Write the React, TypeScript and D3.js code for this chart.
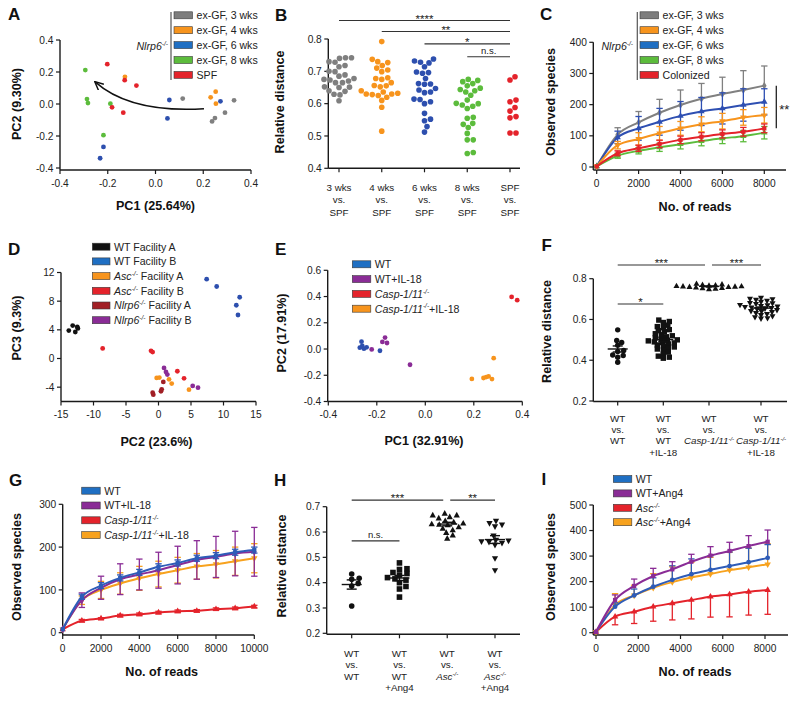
import React from 'react';
import * as d3 from 'd3';

const FONT = "'Liberation Sans', Arial, Helvetica, sans-serif";
const TICK_FS = 10.2;
const CAT_FS = 9.8;
const LEG_FS = 10.6;
const TITLE_FS = 12.6;
const AX = '#1a1a1a';

// ---------------- Panel A ----------------
const aLegendLabels = ['ex-GF, 3 wks', 'ex-GF, 4 wks', 'ex-GF, 6 wks', 'ex-GF, 8 wks', 'SPF'];
const aColors = ['#808080', '#f7941d', '#2d4fae', '#5cbc3c', '#e4232b'];
const aBoxColors = ['#7d7d7d', '#f7941d', '#1f6fc3', '#5cbc3c', '#e4232b'];
const aPts3wks = [[0.114, 0.034], [0.329, 0.023], [0.291, -0.054], [0.249, -0.088], [0.237, -0.109]];
const aPts4wks = [[-0.128, 0.17], [0.252, 0.077], [0.231, 0.042], [0.253, 0.002]];
const aPts6wks = [[0.058, 0.025], [0.05, -0.09], [0.272, 0.017], [-0.218, -0.268], [-0.232, -0.339]];
const aPts8wks = [[-0.294, 0.212], [-0.287, 0.031], [-0.283, 0.006], [-0.189, 0.002], [-0.218, -0.195]];
const aPtsSPF = [[-0.202, 0.249], [-0.129, 0.149], [-0.08, 0.115], [-0.182, -0.021], [-0.135, -0.054]];
const aArrow = [[0.203, -0.03], [-0.105, -0.058], [-0.253, 0.138]];
const aTicks = [-0.4, -0.2, 0, 0.2, 0.4];

// ---------------- Panel B ----------------
const bCategories = [['3 wks', 'vs.', 'SPF'], ['4 wks', 'vs.', 'SPF'], ['6 wks', 'vs.', 'SPF'], ['8 wks', 'vs.', 'SPF'], ['SPF', 'vs.', 'SPF']];
const b3wks = [0.742, 0.742, 0.740, 0.730, 0.728, 0.718, 0.714, 0.700, 0.699, 0.689, 0.685, 0.678, 0.675, 0.673, 0.670, 0.665, 0.665, 0.652, 0.651, 0.650, 0.640, 0.638, 0.629, 0.627, 0.609];
const b4wks = [0.792, 0.737, 0.730, 0.727, 0.718, 0.710, 0.704, 0.699, 0.680, 0.678, 0.675, 0.665, 0.656, 0.655, 0.652, 0.640, 0.636, 0.632, 0.630, 0.630, 0.628, 0.625, 0.620, 0.610, 0.589, 0.515];
const b6wks = [0.738, 0.732, 0.728, 0.726, 0.714, 0.698, 0.696, 0.694, 0.678, 0.662, 0.661, 0.660, 0.647, 0.642, 0.636, 0.634, 0.614, 0.613, 0.606, 0.600, 0.570, 0.552, 0.547, 0.529, 0.512];
const b8wks = [0.675, 0.672, 0.668, 0.662, 0.655, 0.648, 0.644, 0.640, 0.636, 0.626, 0.611, 0.601, 0.600, 0.596, 0.592, 0.585, 0.558, 0.555, 0.539, 0.536, 0.526, 0.508, 0.488, 0.488, 0.449, 0.446];
const bSPF = [0.683, 0.673, 0.611, 0.606, 0.588, 0.577, 0.560, 0.556, 0.509, 0.509];
const bColors = ['#7f7f7f', '#f7941d', '#2d4fae', '#5cbc3c', '#e4232b'];
const bTicks = [0.4, 0.5, 0.6, 0.7, 0.8];
const bSig = [
  { from: 0, to: 4, label: '****', y: 0.857 },
  { from: 1, to: 4, label: '**', y: 0.823 },
  { from: 2, to: 4, label: '*', y: 0.785 },
  { from: 3, to: 4, label: 'n.s.', y: 0.745 },
];

// ---------------- Panel C ----------------
const cLegendLabels = ['ex-GF, 3 wks', 'ex-GF, 4 wks', 'ex-GF, 6 wks', 'ex-GF, 8 wks', 'Colonized'];
const cReads = [0, 1000, 2000, 3000, 4000, 5000, 6000, 7000, 8000];
const c3wks = [2, 104, 143, 174, 199, 219, 234, 247, 261];
const c3wksSD = [0, 22, 35, 43, 48, 49, 54, 62, 63];
const c4wks = [2, 70, 90, 108, 124, 137, 147, 159, 166];
const c4wksSD = [0, 12, 20, 22, 22, 24, 25, 25, 25];
const c6wks = [2, 95, 124, 145, 164, 178, 188, 199, 209];
const c6wksSD = [0, 20, 38, 43, 46, 45, 50, 52, 42];
const c8wks = [2, 36, 52, 63, 73, 83, 92, 99, 110];
const c8wksSD = [0, 8, 10, 13, 15, 15, 17, 18, 20];
const cColonized = [2, 44, 60, 74, 87, 97, 106, 113, 124];
const cColonizedSD = [0, 8, 10, 12, 12, 13, 13, 14, 14];
const cXTicks = [0, 2000, 4000, 6000, 8000];
const cYTicks = [0, 100, 200, 300, 400];

// ---------------- Panel D ----------------
const dLegendLabels = ['WT Facility A', 'WT Facility B', '_Asc^-/-^_ Facility A', '_Asc^-/-^_ Facility B', '_Nlrp6^-/-^_ Facility A', '_Nlrp6^-/-^_ Facility B'];
const dColors = ['#111111', '#2d4fae', '#f7941d', '#e4232b', '#a11f25', '#8a2c96'];
const dBoxColors = ['#111111', '#1f6fc3', '#f7941d', '#e4232b', '#a11f25', '#8a2c96'];
const dWTA = [[-13.8, 3.9], [-13.2, 4.6], [-12.5, 4.4], [-12.8, 3.7], [-12.4, 4.2]];
const dWTB = [[7.41, 11.07], [8.95, 10.05], [12.49, 8.55], [11.97, 7.43], [12.23, 6.07]];
const dAscA = [[-0.28, -2.71], [0.13, -2.66], [1.62, -2.9], [2.03, -3.5], [4.69, -4.35]];
const dAscB = [[-8.59, 1.4], [-1.15, 1.07], [-0.9, 0.9], [2.9, -1.78], [3.93, -2.76]];
const dNlrpA = [[0.74, -3.27], [-0.9, -4.77], [-0.8, -5.05], [0.49, -4.3], [0.38, -4.58]];
const dNlrpB = [[0.85, -1.31], [1.15, -1.87], [1.36, -2.24], [5.26, -3.83], [6.08, -4.07]];
const dXTicks = [-15, -10, -5, 0, 5, 10, 15];
const dYTicks = [-4, 0, 4, 8, 12];

// ---------------- Panel E ----------------
const eLegendLabels = ['WT', 'WT+IL-18', '_Casp-1/11^-/-^_', '_Casp-1/11^-/-^_+IL-18'];
const eColors = ['#2d4fae', '#8a2c96', '#e4232b', '#f7941d'];
const eBoxColors = ['#1f6fc3', '#8a2c96', '#e4232b', '#f7941d'];
const eWT = [[-0.263, 0.056], [-0.27, 0.01], [-0.26, 0.023], [-0.253, 0.003], [-0.242, 0.013], [-0.187, -0.013]];
const eWTIL18 = [[-0.166, 0.087], [-0.177, 0.054], [-0.158, 0.046], [-0.221, -0.003], [-0.063, -0.12]];
const eCasp = [[0.356, 0.397], [0.379, 0.372]];
const eCaspIL18 = [[0.192, -0.228], [0.24, -0.221], [0.251, -0.214], [0.261, -0.209], [0.275, -0.229], [0.282, -0.07]];
const eXTicks = [-0.4, -0.2, 0, 0.2, 0.4];
const eYTicks = [-0.4, -0.2, 0, 0.2, 0.4, 0.6];

// ---------------- Panel F ----------------
const fCategories = [['WT', 'vs.', 'WT'], ['WT', 'vs.', 'WT', '+IL-18'], ['WT', 'vs.', '_Casp-1/11^-/-^_'], ['WT', 'vs.', '_Casp-1/11^-/-^_', '+IL-18']];
const fWTvsWT = [0.549, 0.497, 0.487, 0.474, 0.448, 0.443, 0.426, 0.423, 0.415, 0.39];
const fWTvsWTIL18 = [0.597, 0.59, 0.585, 0.572, 0.565, 0.56, 0.55, 0.545, 0.54, 0.53, 0.525, 0.52, 0.515, 0.51, 0.505, 0.50, 0.498, 0.495, 0.49, 0.487, 0.485, 0.48, 0.475, 0.47, 0.465, 0.46, 0.455, 0.45, 0.44, 0.43, 0.42, 0.415, 0.41];
const fWTvsCasp = [0.776, 0.773, 0.771, 0.769, 0.767, 0.765, 0.764, 0.763, 0.762, 0.761, 0.76, 0.758, 0.756, 0.754, 0.752, 0.75];
const fWTvsCaspIL18 = [0.705, 0.70, 0.698, 0.695, 0.69, 0.685, 0.68, 0.678, 0.675, 0.67, 0.668, 0.665, 0.662, 0.66, 0.658, 0.655, 0.652, 0.65, 0.645, 0.64, 0.638, 0.635, 0.63, 0.625, 0.62, 0.615, 0.61, 0.605, 0.603];
const fShapes = ['circle', 'square', 'up', 'down'];
const fTicks = [0.2, 0.4, 0.6, 0.8];
const fSig = [
  { from: 0, to: 2, label: '***', y: 0.867 },
  { from: 2, to: 3, label: '***', y: 0.867 },
  { from: 0, to: 1, label: '*', y: 0.676 },
];

// ---------------- Panel G ----------------
const gLegendLabels = ['WT', 'WT+IL-18', '_Casp-1/11^-/-^_', '_Casp-1/11^-/-^_+IL-18'];
const gColors = ['#2e5cb8', '#8a2c96', '#e4232b', '#f7a21e'];
const gBoxColors = ['#1f6fc3', '#8a2c96', '#e4232b', '#f7a21e'];
const gReads = [0, 1000, 2000, 3000, 4000, 5000, 6000, 7000, 8000, 9000, 10000];
const gWT = [8, 84, 110, 128, 141, 154, 163, 174, 180, 188, 193];
const gWTSD = [0, 6, 7, 7, 7, 7, 7, 7, 7, 7, 7];
const gWTIL18 = [8, 76, 105, 125, 136, 146, 158, 170, 177, 185, 189];
const gWTIL18SD = [0, 17, 27, 36, 36, 42, 44, 45, 48, 52, 57];
const gCasp = [8, 28, 33, 40, 43, 47, 50, 51, 55, 57, 61];
const gCaspSD = [0, 3, 2, 3, 3, 3, 3, 3, 3, 3, 3];
const gCaspIL18 = [8, 76, 100, 115, 127, 137, 146, 155, 160, 167, 174];
const gCaspIL18SD = [0, 10, 20, 25, 28, 30, 30, 30, 32, 33, 34];
const gXTicks = [0, 2000, 4000, 6000, 8000, 10000];
const gYTicks = [0, 100, 200, 300];

// ---------------- Panel H ----------------
const hCategories = [['WT', 'vs.', 'WT'], ['WT', 'vs.', 'WT', '+Ang4'], ['WT', 'vs.', '_Asc^-/-^_'], ['WT', 'vs.', '_Asc^-/-^_', '+Ang4']];
const hWTvsWT = [0.434, 0.417, 0.413, 0.397, 0.387, 0.308];
const hWTvsWTAng4 = [0.478, 0.455, 0.452, 0.44, 0.436, 0.43, 0.42, 0.415, 0.41, 0.40, 0.385, 0.375, 0.343];
const hWTvsAsc = [0.674, 0.667, 0.667, 0.66, 0.655, 0.645, 0.64, 0.635, 0.632, 0.63, 0.628, 0.62, 0.614, 0.608, 0.598, 0.588, 0.575];
const hWTvsAscAng4 = [0.643, 0.634, 0.628, 0.621, 0.585, 0.565, 0.568, 0.562, 0.56, 0.556, 0.548, 0.495, 0.448];
const hTicks = [0.2, 0.3, 0.4, 0.5, 0.6, 0.7];
const hSig = [
  { from: 0, to: 2, label: '***', y: 0.726 },
  { from: 2, to: 3, label: '**', y: 0.726 },
  { from: 0, to: 1, label: 'n.s.', y: 0.565 },
];

// ---------------- Panel I ----------------
const iLegendLabels = ['WT', 'WT+Ang4', '_Asc^-/-^_', '_Asc^-/-^_+Ang4'];
const iColors = ['#2e5cb8', '#8a2c96', '#e4232b', '#f7a21e'];
const iBoxColors = ['#1f6fc3', '#8a2c96', '#e4232b', '#f7a21e'];
const iReads = [0, 903, 1806, 2709, 3612, 4515, 5418, 6321, 7224, 8127];
const iWT = [3, 102, 146, 180, 207, 229, 246, 261, 276, 293];
const iWTSD = [0, 15, 25, 35, 55, 60, 55, 55, 55, 52];
const iWTAng4 = [3, 128, 183, 222, 248, 278, 302, 320, 339, 356];
const iWTAng4SD = [0, 20, 27, 30, 30, 29, 35, 34, 41, 46];
const iAsc = [3, 63, 82, 102, 115, 128, 141, 150, 160, 167];
const iAscSD = [0, 32, 46, 57, 65, 74, 80, 88, 91, 95];
const iAscAng4 = [3, 108, 146, 176, 198, 216, 230, 245, 256, 268];
const iAscAng4SD = [0, 45, 40, 55, 60, 60, 65, 70, 75, 80];
const iXTicks = [0, 2000, 4000, 6000, 8000];
const iYTicks = [0, 100, 200, 300, 400, 500];

// ================= helpers =================
function parseRich(s) {
  const out = [];
  let it = false, sup = false, cur = '';
  const flush = () => { if (cur) out.push({ t: cur, i: it, sup }); cur = ''; };
  for (const ch of s) {
    if (ch === '_') { flush(); it = !it; }
    else if (ch === '^') { flush(); sup = !sup; }
    else cur += ch;
  }
  flush();
  return out;
}

function Rich({ x, y, s, size = TICK_FS, anchor = 'start', weight = 'normal', fill = '#222' }) {
  const segs = parseRich(s);
  let prev = false;
  return (
    <text x={x} y={y} fontSize={size} textAnchor={anchor} fontWeight={weight} fill={fill}>
      {segs.map((g, k) => {
        let dy = 0;
        if (g.sup && !prev) dy = -size * 0.38;
        else if (!g.sup && prev) dy = size * 0.38;
        prev = g.sup;
        return (
          <tspan key={k} dy={dy || undefined} fontStyle={g.i ? 'italic' : undefined} fontSize={g.sup ? size * 0.62 : undefined}>
            {g.t}
          </tspan>
        );
      })}
    </text>
  );
}

function YAxis({ x, y0, y1, scale, ticks, fmt }) {
  return (
    <g>
      <line x1={x} x2={x} y1={y0} y2={y1} stroke={AX} strokeWidth={1.4} />
      {ticks.map((t) => (
        <g key={t}>
          <line x1={x - 4} x2={x} y1={scale(t)} y2={scale(t)} stroke={AX} strokeWidth={1.2} />
          <text x={x - 6.5} y={scale(t) + 3.6} textAnchor="end" fontSize={TICK_FS} fill="#222">{fmt(t)}</text>
        </g>
      ))}
    </g>
  );
}

function XAxis({ y, x0, x1, scale, ticks, fmt }) {
  return (
    <g>
      <line x1={x0} x2={x1} y1={y} y2={y} stroke={AX} strokeWidth={1.4} />
      {ticks.map((t) => (
        <g key={t}>
          <line x1={scale(t)} x2={scale(t)} y1={y} y2={y + 4} stroke={AX} strokeWidth={1.2} />
          <text x={scale(t)} y={y + 16.5} textAnchor="middle" fontSize={TICK_FS} fill="#222">{fmt(t)}</text>
        </g>
      ))}
    </g>
  );
}

function YTitle({ x, y, text }) {
  return (
    <text transform={`translate(${x},${y}) rotate(-90)`} textAnchor="middle" fontSize={TITLE_FS} fontWeight="bold" fill="#111">{text}</text>
  );
}
function XTitle({ x, y, text }) {
  return <text x={x} y={y} textAnchor="middle" fontSize={TITLE_FS} fontWeight="bold" fill="#111">{text}</text>;
}
function Letter({ x, y, t }) {
  return <text x={x} y={y} fontSize={17} fontWeight="bold" fill="#111">{t}</text>;
}

function Legend({ labels, colors, x, y0, step, w = 18.5, h = 7 }) {
  return (
    <g>
      {labels.map((l, i) => {
        const cy = y0 + i * step;
        return (
          <g key={i}>
            <rect x={x} y={cy - h / 2} width={w} height={h} fill={colors[i]} stroke="#3a3a3a" strokeWidth={0.6} />
            <Rich x={x + w + 4} y={cy + 3.8} s={l} size={LEG_FS} />
          </g>
        );
      })}
    </g>
  );
}

const fmt1 = (v) => v.toFixed(1);
const fmt0 = (v) => String(Math.round(v));

// beeswarm offsets, elliptical collision (sx horizontal, sy vertical)
function swarm(values, y, sx, sy) {
  const order = values.map((_, i) => i).sort((a, b) => values[a] - values[b]);
  const placed = [];
  const xs = new Array(values.length).fill(0);
  for (const i of order) {
    const py = y(values[i]);
    let off = 0;
    for (let k = 0; k < 800; k++) {
      const cand = k === 0 ? 0 : (k % 2 ? 1 : -1) * Math.ceil(k / 2) * 0.5;
      if (placed.every((p) => ((p.x - cand) / sx) ** 2 + ((p.y - py) / sy) ** 2 >= 1)) { off = cand; break; }
    }
    placed.push({ x: off, y: py });
    xs[i] = off;
  }
  return xs;
}

function Mark({ shape, x, y, s, fill }) {
  if (shape === 'circle') return <circle cx={x} cy={y} r={s / 2} fill={fill} />;
  if (shape === 'square') return <rect x={x - s / 2} y={y - s / 2} width={s} height={s} fill={fill} />;
  if (shape === 'up') return <path d={`M${x},${y - s * 0.58}L${x + s * 0.56},${y + s * 0.42}L${x - s * 0.56},${y + s * 0.42}Z`} fill={fill} />;
  if (shape === 'down') return <path d={`M${x},${y + s * 0.58}L${x + s * 0.56},${y - s * 0.42}L${x - s * 0.56},${y - s * 0.42}Z`} fill={fill} />;
  if (shape === 'diamond') return <path d={`M${x},${y - s * 0.65}L${x + s * 0.5},${y}L${x},${y + s * 0.65}L${x - s * 0.5},${y}Z`} fill={fill} />;
  return null;
}

function SigBars({ sigs, xs, y }) {
  return (
    <g>
      {sigs.map((s, k) => {
        const ly = y(s.y);
        const rightTouch = sigs.some((o) => o !== s && o.y === s.y && o.from === s.to);
        const leftTouch = sigs.some((o) => o !== s && o.y === s.y && o.to === s.from);
        const x1 = xs(s.from) + (leftTouch ? 3 : 0);
        const x2 = xs(s.to) - (rightTouch ? 4 : 0);
        const star = s.label.includes('*');
        return (
          <g key={k}>
            <line x1={x1} x2={x2} y1={ly} y2={ly} stroke="#333" strokeWidth={1.1} />
            <text x={(x1 + x2) / 2} y={star ? ly + 2 : ly - 2.8} textAnchor="middle" fontSize={star ? 11.5 : 9.5} fill="#222">{s.label}</text>
          </g>
        );
      })}
    </g>
  );
}

function CatLabels({ cats, xs, y0, lh }) {
  return (
    <g>
      {cats.map((lines, c) => (
        <g key={c}>
          {lines.map((l, k) => (
            <Rich key={k} x={xs(c)} y={y0 + k * lh} s={l} anchor="middle" size={CAT_FS} />
          ))}
        </g>
      ))}
    </g>
  );
}

function DotColumns({ groups, shapes, colors, xs, y, size, sx, sy, withMean }) {
  return (
    <g>
      {groups.map((vals, g) => {
        const offs = swarm(vals, y, sx, sy);
        const cx = xs(g);
        const m = d3.mean(vals);
        const sem = d3.deviation(vals) / Math.sqrt(vals.length);
        return (
          <g key={g}>
            {vals.map((v, i) => (
              <Mark key={i} shape={shapes[g]} x={cx + offs[i]} y={y(v)} s={size} fill={colors[g]} />
            ))}
            {withMean && (
              <g stroke="#111" strokeWidth={1.4}>
                <line x1={cx - 10} x2={cx + 10} y1={y(m)} y2={y(m)} />
                <line x1={cx} x2={cx} y1={y(m - sem)} y2={y(m + sem)} />
                <line x1={cx - 5} x2={cx + 5} y1={y(m - sem)} y2={y(m - sem)} />
                <line x1={cx - 5} x2={cx + 5} y1={y(m + sem)} y2={y(m + sem)} />
              </g>
            )}
          </g>
        );
      })}
    </g>
  );
}

function Curves({ reads, series, x, y }) {
  return (
    <g>
      {series.map((s, k) => {
        const line = d3.line().x((_, i) => x(reads[i])).y((d) => y(d)).curve(d3.curveMonotoneX);
        const sym = d3.symbol().type(s.shape === 'square' ? d3.symbolSquare : s.shape === 'circle' ? d3.symbolCircle : s.shape === 'diamond' ? d3.symbolDiamond : d3.symbolTriangle).size(18);
        return (
          <g key={k}>
            {s.mean.map((m, i) => {
              if (!s.sd[i]) return null;
              const px = x(reads[i]);
              const up = s.dir !== 'down';
              const dn = s.dir !== 'up';
              const yt = y(m + (up ? s.sd[i] : 0));
              const yb = y(m - (dn ? s.sd[i] : 0));
              return (
                <g key={i} stroke={s.color} strokeWidth={1.3}>
                  <line x1={px} x2={px} y1={yt} y2={yb} />
                  {up && <line x1={px - 3.2} x2={px + 3.2} y1={yt} y2={yt} />}
                  {dn && <line x1={px - 3.2} x2={px + 3.2} y1={yb} y2={yb} />}
                </g>
              );
            })}
            <path d={line(s.mean)} fill="none" stroke={s.color} strokeWidth={2} />
            {s.mean.map((m, i) => (
              <path key={i} d={sym()} transform={`translate(${x(reads[i])},${y(m)})${s.shape === 'down' ? ' rotate(180)' : ''}`} fill={s.color} />
            ))}
          </g>
        );
      })}
    </g>
  );
}

function Scatter({ groups, colors, x, y, r = 2.4 }) {
  return (
    <g>
      {groups.map((pts, g) => pts.map((p, i) => (
        <circle key={g + '-' + i} cx={x(p[0])} cy={y(p[1])} r={r} fill={colors[g]} />
      )))}
    </g>
  );
}

const fCatPositions = [617.7, 663.3, 709, 761];

export default function App() {
  // A
  const aX = d3.scaleLinear().domain([-0.4, 0.4]).range([60, 251]);
  const aY = d3.scaleLinear().domain([-0.4, 0.4]).range([168, 40]);
  const arrowPath = `M${aX(aArrow[0][0])},${aY(aArrow[0][1])} Q${aX(aArrow[1][0])},${aY(aArrow[1][1])} ${aX(aArrow[2][0])},${aY(aArrow[2][1])}`;
  // B
  const bX = d3.scalePoint().domain(d3.range(5)).range([339, 510]);
  const bY = d3.scaleLinear().domain([0.4, 0.8]).range([168.3, 39]);
  // C
  const cX = d3.scaleLinear().domain([0, 8000]).range([596.7, 764.3]);
  const cY = d3.scaleLinear().domain([0, 400]).range([167, 42.3]);
  // D
  const dX = d3.scaleLinear().domain([-15, 15]).range([61, 256]);
  const dY = d3.scaleLinear().domain([-6, 12]).range([401.5, 272.5]);
  // E
  const eX = d3.scaleLinear().domain([-0.4, 0.4]).range([328.3, 522.3]);
  const eY = d3.scaleLinear().domain([-0.4, 0.6]).range([401.5, 270.3]);
  // F
  const fX = d3.scaleOrdinal().domain(d3.range(4)).range(fCatPositions);
  const fY = d3.scaleLinear().domain([0.2, 0.8]).range([401, 278.7]);
  // G
  const gX = d3.scaleLinear().domain([0, 10000]).range([62.7, 254.3]);
  const gY = d3.scaleLinear().domain([0, 300]).range([632.7, 504.3]);
  // H
  const hX = d3.scalePoint().domain(d3.range(4)).range([351.7, 495]);
  const hY = d3.scaleLinear().domain([0.2, 0.7]).range([633.3, 506.7]);
  // I
  const iX = d3.scaleLinear().domain([0, 8000]).range([596, 765]);
  const iY = d3.scaleLinear().domain([0, 500]).range([632.7, 505]);

  const cSeries = [
    { mean: c3wks, sd: c3wksSD, color: aColors[0], dir: 'up', shape: 'diamond' },
    { mean: c6wks, sd: c6wksSD, color: '#2e4fb2', dir: 'both', shape: 'up' },
    { mean: c4wks, sd: c4wksSD, color: aColors[1], dir: 'both', shape: 'down' },
    { mean: c8wks, sd: c8wksSD, color: aColors[3], dir: 'both', shape: 'up' },
    { mean: cColonized, sd: cColonizedSD, color: aColors[4], dir: 'both', shape: 'square' },
  ];
  const gSeries = [
    { mean: gCaspIL18, sd: gCaspIL18SD, color: gColors[3], dir: 'both', shape: 'down' },
    { mean: gCasp, sd: gCaspSD, color: gColors[2], dir: 'both', shape: 'up' },
    { mean: gWTIL18, sd: gWTIL18SD, color: gColors[1], dir: 'both', shape: 'diamond' },
    { mean: gWT, sd: gWTSD, color: gColors[0], dir: 'both', shape: 'square' },
  ];
  const iSeries = [
    { mean: iAsc, sd: iAscSD, color: iColors[2], dir: 'down', shape: 'up' },
    { mean: iAscAng4, sd: iAscAng4SD, color: iColors[3], dir: 'up', shape: 'down' },
    { mean: iWT, sd: iWTSD, color: iColors[0], dir: 'up', shape: 'circle' },
    { mean: iWTAng4, sd: iWTAng4SD, color: iColors[1], dir: 'up', shape: 'square' },
  ];

  return (
    <svg width={800} height={703} style={{ position: 'absolute', left: 0, top: 0 }} fontFamily={FONT}>
      <defs>
        <marker id="arrowhead" viewBox="0 0 10 10" refX="9" refY="5" markerWidth="9" markerHeight="9" markerUnits="userSpaceOnUse" orient="auto">
          <path d="M0,0.5 L9.5,5 L0,9.5" fill="none" stroke="#111" strokeWidth={1.6} />
        </marker>
      </defs>
      <rect width={800} height={703} fill="#fff" />

      {/* ---------- A ---------- */}
      <Letter x={8} y={20} t="A" />
      <YAxis x={60} y0={40} y1={170} scale={aY} ticks={aTicks} fmt={fmt1} />
      <XAxis y={170} x0={60} x1={251} scale={aX} ticks={aTicks} fmt={fmt1} />
      <YTitle x={20.5} y={104} text="PC2 (9.30%)" />
      <XTitle x={155.5} y={210} text="PC1 (25.64%)" />
      <Scatter groups={[aPts3wks, aPts4wks, aPts6wks, aPts8wks, aPtsSPF]} colors={aColors} x={aX} y={aY} />
      <path d={arrowPath} fill="none" stroke="#111" strokeWidth={1.5} markerEnd="url(#arrowhead)" />
      <line x1={171} x2={171} y1={12} y2={80} stroke="#555" strokeWidth={1.2} />
      <Legend labels={aLegendLabels} colors={aBoxColors} x={174} y0={15.3} step={14.9} />
      <Rich x={168} y={50} s="_Nlrp6^-/-^_" anchor="end" size={LEG_FS} />

      {/* ---------- B ---------- */}
      <Letter x={275} y={20.5} t="B" />
      <YAxis x={328.3} y0={39} y1={168.3} scale={bY} ticks={bTicks} fmt={fmt1} />
      <line x1={328.3} x2={520} y1={168.3} y2={168.3} stroke={AX} strokeWidth={1.4} />
      {bCategories.map((_, c) => (
        <line key={c} x1={bX(c)} x2={bX(c)} y1={168.3} y2={172.3} stroke={AX} strokeWidth={1.2} />
      ))}
      <CatLabels cats={bCategories} xs={bX} y0={190.5} lh={12.5} />
      <YTitle x={284} y={102} text="Relative distance" />
      <DotColumns groups={[b3wks, b4wks, b6wks, b8wks, bSPF]} shapes={['circle', 'circle', 'circle', 'circle', 'circle']} colors={bColors} xs={bX} y={bY} size={5.6} sx={5.9} sy={5.9} withMean={false} />
      <SigBars sigs={bSig} xs={bX} y={bY} />

      {/* ---------- C ---------- */}
      <Letter x={540} y={20} t="C" />
      <YAxis x={593.3} y0={42.3} y1={170} scale={cY} ticks={cYTicks} fmt={fmt0} />
      <XAxis y={170} x0={593.3} x1={786} scale={cX} ticks={cXTicks} fmt={fmt0} />
      <YTitle x={554.5} y={102} text="Observed species" />
      <XTitle x={695} y={211} text="No. of reads" />
      <Curves reads={cReads} series={cSeries} x={cX} y={cY} />
      <line x1={cX(8000) + 12} x2={cX(8000) + 12} y1={cY(c3wks[8])} y2={cY(cColonized[8])} stroke="#222" strokeWidth={1.3} />
      <text x={cX(8000) + 15} y={(cY(c3wks[8]) + cY(cColonized[8])) / 2 + 7.5} fontSize={13} fill="#222">**</text>
      <line x1={637.3} x2={637.3} y1={12} y2={80} stroke="#555" strokeWidth={1.2} />
      <Legend labels={cLegendLabels} colors={aBoxColors} x={640} y0={15.3} step={14.9} />
      <Rich x={633} y={50} s="_Nlrp6^-/-^_" anchor="end" size={LEG_FS} />

      {/* ---------- D ---------- */}
      <Letter x={8} y={255} t="D" />
      <YAxis x={61} y0={272.5} y1={401.5} scale={dY} ticks={dYTicks} fmt={fmt0} />
      <XAxis y={401.5} x0={61} x1={256} scale={dX} ticks={dXTicks} fmt={fmt0} />
      <YTitle x={20.5} y={328} text="PC3 (9.3%)" />
      <XTitle x={156.5} y={446} text="PC2 (23.6%)" />
      <Scatter groups={[dWTA, dWTB, dAscA, dAscB, dNlrpA, dNlrpB]} colors={dColors} x={dX} y={dY} />
      <Legend labels={dLegendLabels} colors={dBoxColors} x={92.3} y0={246.7} step={14.7} w={17.7} />

      {/* ---------- E ---------- */}
      <Letter x={275} y={254.5} t="E" />
      <YAxis x={327.7} y0={270.3} y1={401.5} scale={eY} ticks={eYTicks} fmt={fmt1} />
      <XAxis y={401.5} x0={327.7} x1={522.3} scale={eX} ticks={eXTicks} fmt={fmt1} />
      <YTitle x={286} y={333} text="PC2 (17.91%)" />
      <XTitle x={424} y={445} text="PC1 (32.91%)" />
      <Scatter groups={[eWT, eWTIL18, eCasp, eCaspIL18]} colors={eColors} x={eX} y={eY} />
      <Legend labels={eLegendLabels} colors={eBoxColors} x={352.3} y0={264.3} step={14.8} />

      {/* ---------- F ---------- */}
      <Letter x={541.5} y={250.5} t="F" />
      <YAxis x={593.3} y0={278.7} y1={401.5} scale={fY} ticks={fTicks} fmt={fmt1} />
      <line x1={593.3} x2={787} y1={401.5} y2={401.5} stroke={AX} strokeWidth={1.4} />
      {fCategories.map((_, c) => (
        <line key={c} x1={fX(c)} x2={fX(c)} y1={401.5} y2={405.5} stroke={AX} strokeWidth={1.2} />
      ))}
      <CatLabels cats={fCategories} xs={fX} y0={422} lh={11.2} />
      <YTitle x={551} y={331.5} text="Relative distance" />
      <DotColumns groups={[fWTvsWT, fWTvsWTIL18, fWTvsCasp, fWTvsCaspIL18]} shapes={fShapes} colors={['#111', '#111', '#111', '#111']} xs={fX} y={fY} size={5.4} sx={6.2} sy={3.4} withMean={true} />
      <SigBars sigs={fSig} xs={fX} y={fY} />

      {/* ---------- G ---------- */}
      <Letter x={9} y={485.5} t="G" />
      <YAxis x={62.7} y0={504.3} y1={635} scale={gY} ticks={gYTicks} fmt={fmt0} />
      <XAxis y={635} x0={62.7} x1={254.3} scale={gX} ticks={gXTicks} fmt={fmt0} />
      <YTitle x={20.5} y={567} text="Observed species" />
      <XTitle x={161.7} y={676} text="No. of reads" />
      <Curves reads={gReads} series={gSeries} x={gX} y={gY} />
      <Legend labels={gLegendLabels} colors={gBoxColors} x={81.7} y0={490.7} step={14.8} />

      {/* ---------- H ---------- */}
      <Letter x={274} y={485.5} t="H" />
      <YAxis x={326.7} y0={506.7} y1={634.3} scale={hY} ticks={hTicks} fmt={fmt1} />
      <line x1={326.7} x2={520} y1={634.3} y2={634.3} stroke={AX} strokeWidth={1.4} />
      {hCategories.map((_, c) => (
        <line key={c} x1={hX(c)} x2={hX(c)} y1={634.3} y2={638.3} stroke={AX} strokeWidth={1.2} />
      ))}
      <CatLabels cats={hCategories} xs={hX} y0={657} lh={11.3} />
      <YTitle x={285.5} y={566} text="Relative distance" />
      <DotColumns groups={[hWTvsWT, hWTvsWTAng4, hWTvsAsc, hWTvsAscAng4]} shapes={fShapes} colors={['#111', '#111', '#111', '#111']} xs={hX} y={hY} size={5.6} sx={7.5} sy={4.5} withMean={true} />
      <SigBars sigs={hSig} xs={hX} y={hY} />

      {/* ---------- I ---------- */}
      <text x={541.5} y={485} fontSize={17} fontWeight="bold" fill="#111">I</text>
      <YAxis x={593.3} y0={505} y1={635} scale={iY} ticks={iYTicks} fmt={fmt0} />
      <XAxis y={635} x0={593.3} x1={788} scale={iX} ticks={iXTicks} fmt={fmt0} />
      <YTitle x={554.5} y={567} text="Observed species" />
      <XTitle x={695} y={676} text="No. of reads" />
      <Curves reads={iReads} series={iSeries} x={iX} y={iY} />
      <Legend labels={iLegendLabels} colors={iBoxColors} x={613.3} y0={479} step={14.4} />
    </svg>
  );
}
